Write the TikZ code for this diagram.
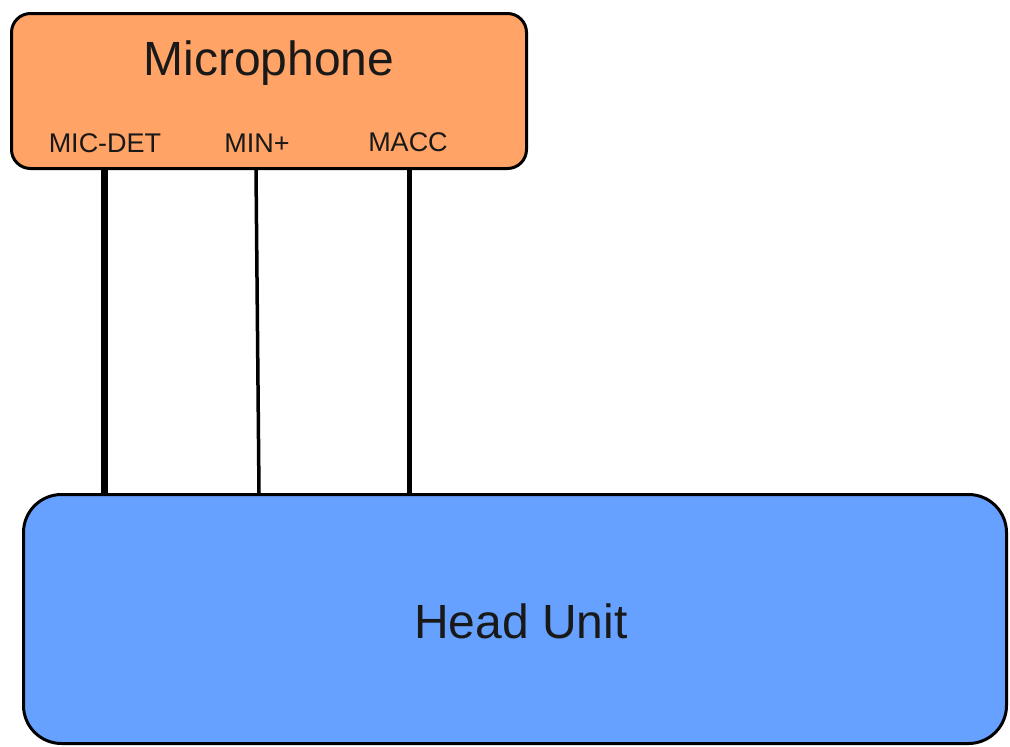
\documentclass[tikz,border=0pt]{standalone}
\usepackage{fontspec}
\setmainfont{Liberation Sans}
\definecolor{micorange}{RGB}{255,163,102}
\definecolor{hublue}{RGB}{102,161,255}
\tikzset{
  box/.style={draw=black, line width=3pt, inner sep=0pt, rectangle},
  title/.style={font=\fontsize{48}{56}\selectfont, inner sep=0pt, text=black!90},
  pin/.style={font=\fontsize{27}{32}\selectfont, inner sep=0pt, anchor=base, text=black!90},
  wire/.style={draw=black, line cap=butt}
}
\begin{document}
\begin{tikzpicture}[x=1pt,y=-1pt]
\useasboundingbox (0,0) rectangle (1010,747);
% boxes
\node[box, fill=micorange, rounded corners=19pt, minimum width=515pt, minimum height=155pt] (mic) at (269,91) {};
\node[box, fill=hublue, rounded corners=38pt, minimum width=983pt, minimum height=249pt] (hu) at (515,619) {};
% texts
\node[title] (mictitle) at (269,63) {Microphone};
\node[title] (hutitle) at (521,621) {Head Unit};
\node[pin] (lmicdet) at (105,152) {MIC-DET};
\node[pin] (lmin) at (257,152) {MIN+};
\node[pin] (lmacc) at (408,151) {MACC};
% wires
\draw[wire, line width=7pt] (104,0 |- mic.south) -- (104,0 |- hu.north);
\draw[wire, line width=3.5pt] (256,0 |- mic.south) -- (259,0 |- hu.north);
\draw[wire, line width=5pt] (409,0 |- mic.south) -- (409,0 |- hu.north);
\end{tikzpicture}
\end{document}
